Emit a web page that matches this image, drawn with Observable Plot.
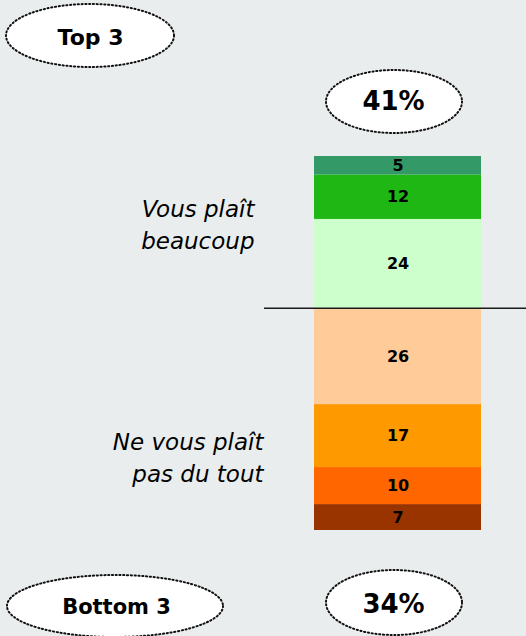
<!DOCTYPE html>
<html>
<head>
<meta charset="utf-8">
<script src="https://cdn.jsdelivr.net/npm/d3@7"></script>
<script src="https://cdn.jsdelivr.net/npm/@observablehq/plot@0.6"></script>
<style>
  html, body { margin: 0; padding: 0; background: #e9eded; }
  #chart svg { display: block; }
</style>
</head>
<body>
<div id="chart"></div>
<script>
// Scale levels, from "vous plaît beaucoup" (top) to "ne vous plaît pas du tout" (bottom)
const levels = ["7", "6", "5", "4", "3", "2", "1"];
const values = [5, 12, 24, 26, 17, 10, 7];
const colors = ["#339966", "#1fb714", "#ccffcc", "#ffcc99", "#ff9900", "#ff6600", "#993300"];
const question = ["Q"];
const labelTop = "Vous plaît\nbeaucoup";
const labelBottom = "Ne vous plaît\npas du tout";
const top3Title = "Top 3";
const bottom3Title = "Bottom 3";

const total = d3.sum(values);
const top3 = d3.sum(values.slice(0, 3));
const bottom3 = d3.sum(values.slice(-3));
const boundary = total - top3;

// stack from the bottom up
const table = levels.map((level, i) => ({q: question[0], level, value: values[i]})).reverse();

const font = "'DejaVu Sans', Verdana, sans-serif";

function ellipses() {
  const g = d3.create("svg:g");
  const specs = [
    [90, 35.5, 84, 31.5],
    [394, 101.5, 68, 31.5],
    [115, 606, 108, 31],
    [394, 602.5, 68, 32.5]
  ];
  for (const [cx, cy, rx, ry] of specs) {
    g.append("ellipse")
      .attr("cx", cx).attr("cy", cy).attr("rx", rx).attr("ry", ry)
      .attr("fill", "white")
      .attr("stroke", "#111")
      .attr("stroke-width", 2)
      .attr("stroke-dasharray", "1.2 2.6")
      .attr("stroke-linecap", "round");
  }
  return g.node();
}

const common = {frameAnchor: "top-left", text: d => d, fill: "black", lineAnchor: "middle"};

const chart = Plot.plot({
  width: 526,
  height: 636,
  margin: 0,
  style: {background: "#e9eded", fontFamily: font, overflow: "visible"},
  x: {type: "band", domain: question, range: [314, 481], padding: 0, axis: null},
  y: {domain: [0, total], range: [530, 156], axis: null},
  color: {domain: levels, range: colors},
  marks: [
    Plot.barY(table, Plot.stackY({x: "q", y: "value", fill: "level", inset: 0})),
    Plot.text(table, Plot.stackY({x: "q", y: "value", text: d => String(d.value), fill: "black", fontWeight: "bold", fontSize: 16})),
    Plot.ruleY([boundary], {insetLeft: 264, stroke: "#1a1a1a", strokeWidth: 1.4}),
    ellipses,
    Plot.text([top3Title], {...common, dx: 90, dy: 37, fontSize: 22, fontWeight: "bold", textAnchor: "middle"}),
    Plot.text([top3 + "%"], {...common, dx: 393, dy: 101, fontSize: 26, fontWeight: "bold", textAnchor: "middle"}),
    Plot.text([bottom3Title], {...common, dx: 116, dy: 607, fontSize: 21, fontWeight: "bold", textAnchor: "middle"}),
    Plot.text([bottom3 + "%"], {...common, dx: 393, dy: 604, fontSize: 26, fontWeight: "bold", textAnchor: "middle"}),
    Plot.text([labelTop], {...common, dx: 254, dy: 222, fontSize: 23, fontStyle: "italic", textAnchor: "end", lineHeight: 1.4}),
    Plot.text([labelBottom], {...common, dx: 263, dy: 455, fontSize: 23, fontStyle: "italic", textAnchor: "end", lineHeight: 1.42})
  ]
});
document.getElementById("chart").appendChild(chart);
</script>
</body>
</html>
